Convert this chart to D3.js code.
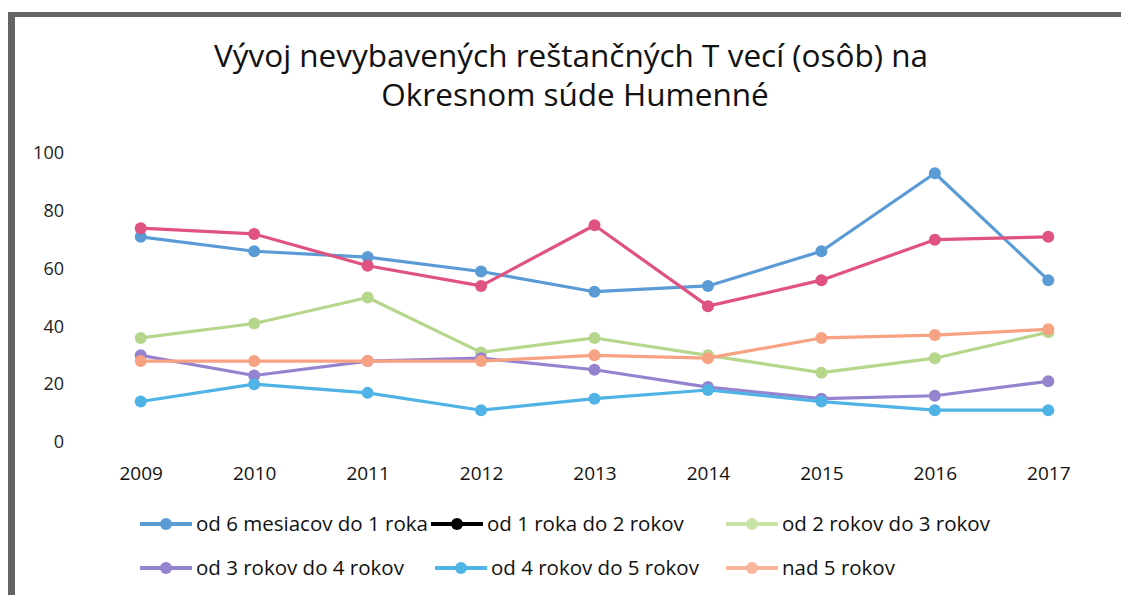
<!DOCTYPE html>
<html>
<head>
<meta charset="utf-8">
<script src="https://cdn.jsdelivr.net/npm/d3@7"></script>
<style>
  body { margin: 0; background: #fff; }
  svg { display: block; font-family: "Open Sans", Lato, sans-serif; }
</style>
</head>
<body>
<svg id="chart" width="1121" height="595"></svg>
<script>
const years = ["2009", "2010", "2011", "2012", "2013", "2014", "2015", "2016", "2017"];
const seriesNames = [
  "od 6 mesiacov do 1 roka",
  "od 1 roka do 2 rokov",
  "od 2 rokov do 3 rokov",
  "od 3 rokov do 4 rokov",
  "od 4 rokov do 5 rokov",
  "nad 5 rokov"
];
const s6m = [71, 66, 64, 59, 52, 54, 66, 93, 56];
const s1r = [74, 72, 61, 54, 75, 47, 56, 70, 71];
const s2r = [36, 41, 50, 31, 36, 30, 24, 29, 38];
const s3r = [30, 23, 28, 29, 25, 19, 15, 16, 21];
const s4r = [14, 20, 17, 11, 15, 18, 14, 11, 11];
const s5r = [28, 28, 28, 28, 30, 29, 36, 37, 39];
const yTicks = [0, 20, 40, 60, 80, 100];

const values = [s6m, s1r, s2r, s3r, s4r, s5r];
const colors = ["#5b9bd5", "#e0527f", "#b6d68c", "#9683cf", "#4fb3e6", "#f7a283"];
// the scanned legend shows a black key for the second series
const legendColors = ["#5b9bd5", "#000000", "#c9e3a6", "#9683cf", "#4fb3e6", "#f7b59c"];

const svg = d3.select("#chart");

// frame (left and top edges of the scanned box)
svg.append("rect").attr("x", 8).attr("y", 12).attr("width", 1113).attr("height", 5).attr("fill", "#636363");
svg.append("rect").attr("x", 8).attr("y", 12).attr("width", 7).attr("height", 583).attr("fill", "#636363");

// title
svg.append("text").attr("x", 571).attr("y", 67).attr("text-anchor", "middle")
  .attr("font-size", 31.5).attr("fill", "#111")
  .text("Vývoj nevybavených reštančných T vecí (osôb) na");
svg.append("text").attr("x", 575).attr("y", 106).attr("text-anchor", "middle")
  .attr("font-size", 31.5).attr("fill", "#111")
  .text("Okresnom súde Humenné");

const x = d3.scalePoint().domain(years).range([84, 1105]).padding(0.5);
const y = d3.scaleLinear().domain([0, 100]).range([442, 153]);

const yAxis = svg.append("g").attr("transform", "translate(64,0)")
  .call(d3.axisLeft(y).tickValues(yTicks).tickSize(0).tickPadding(0));
yAxis.select(".domain").remove();
yAxis.selectAll("text").attr("font-size", 18).attr("fill", "#222").attr("font-family", "'Open Sans', sans-serif");

const xAxis = svg.append("g").attr("transform", "translate(0,466)")
  .call(d3.axisBottom(x).tickSize(0).tickPadding(0));
xAxis.select(".domain").remove();
xAxis.selectAll("text").attr("font-size", 19).attr("fill", "#111").attr("font-family", "'Open Sans', sans-serif");

const line = d3.line().x((d, i) => x(years[i])).y(d => y(d));

values.forEach((vals, k) => {
  const g = svg.append("g");
  g.append("path").datum(vals).attr("d", line)
    .attr("fill", "none").attr("stroke", colors[k]).attr("stroke-width", 3.2)
    .attr("stroke-linejoin", "round");
  g.selectAll("circle").data(vals).join("circle")
    .attr("cx", (d, i) => x(years[i])).attr("cy", d => y(d)).attr("r", 6)
    .attr("fill", colors[k]);
});

// legend
const legendPos = [[140, 524], [431, 524], [726, 524], [140, 568], [435, 568], [726, 568]];
seriesNames.forEach((name, k) => {
  const [lx, ly] = legendPos[k];
  const g = svg.append("g").attr("transform", `translate(${lx},${ly})`);
  g.append("line").attr("x1", 0).attr("x2", 52).attr("y1", 0).attr("y2", 0)
    .attr("stroke", legendColors[k]).attr("stroke-width", 4);
  g.append("circle").attr("cx", 26).attr("cy", 0).attr("r", 6).attr("fill", legendColors[k]);
  g.append("text").attr("x", 56).attr("y", 0).attr("dy", "0.35em")
    .attr("font-size", 20.5).attr("fill", "#111").text(name);
});
</script>
</body>
</html>
